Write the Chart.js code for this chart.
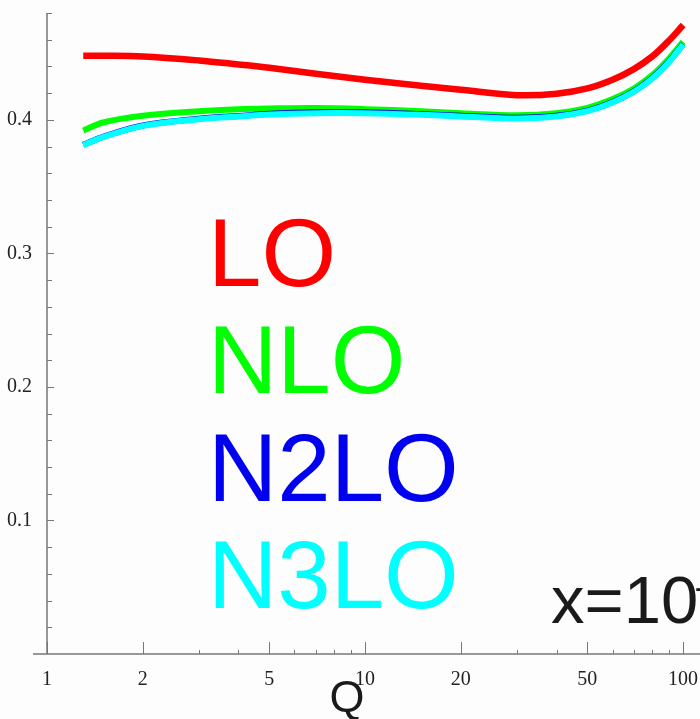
<!DOCTYPE html>
<html>
<head>
<meta charset="utf-8">
<script src="https://cdn.jsdelivr.net/npm/chart.js@4/dist/chart.umd.min.js"></script>
<style>
  html, body { margin: 0; padding: 0; background: #fdfdfd; }
  #wrap { width: 700px; height: 719px; }
</style>
</head>
<body>
<div id="wrap"><canvas id="qChart" width="700" height="719"></canvas></div>
<script>
// values
const qValues = [1.3, 1.5, 2, 3, 4, 5, 7, 10, 15, 20, 30, 40, 50, 60, 70, 80, 90, 100];
const loValues   = [0.448, 0.448, 0.4475, 0.4445, 0.4415, 0.439, 0.4345, 0.430, 0.4255, 0.4225, 0.4185, 0.4195, 0.4235, 0.430, 0.438, 0.4475, 0.459, 0.471];
const nloValues  = [0.392, 0.398, 0.403, 0.4065, 0.408, 0.4085, 0.4088, 0.408, 0.4065, 0.405, 0.4035, 0.405, 0.409, 0.4155, 0.4235, 0.4335, 0.4455, 0.4585];
const n2loValues = [0.3813, 0.3873, 0.3958, 0.4009, 0.4029, 0.4045, 0.4056, 0.4056, 0.4043, 0.403, 0.4015, 0.403, 0.4069, 0.4133, 0.4213, 0.4313, 0.4433, 0.4567];
const n3loValues = [0.381, 0.387, 0.3955, 0.4005, 0.4025, 0.404, 0.405, 0.405, 0.4038, 0.4025, 0.401, 0.4025, 0.4065, 0.413, 0.421, 0.431, 0.443, 0.4565];

const xTickValues = [1, 2, 3, 4, 5, 6, 7, 8, 9, 10, 20, 30, 40, 50, 60, 70, 80, 90, 100];
const xTickLabels = [1, 2, 5, 10, 20, 50, 100];
const yTickLabels = [0.1, 0.2, 0.3, 0.4];

const seriesLabels = ['LO', 'NLO', 'N2LO', 'N3LO'];
const seriesColors = ['#ff0000', '#00ff00', '#0000f0', '#00ffff'];

const toPoints = vals => vals.map((v, i) => ({ x: qValues[i], y: v }));

const axisColor = '#777777';

// axes lines, inward tick marks and the big labels
const decorPlugin = {
    id: 'decor',
    afterDraw(chart) {
        const ctx = chart.ctx;
        const xs = chart.scales.x;
        const ys = chart.scales.y;
        const area = chart.chartArea;
        ctx.save();
        ctx.strokeStyle = axisColor;
        ctx.lineWidth = 1.5;
        ctx.beginPath();
        ctx.moveTo(area.left, area.top);
        ctx.lineTo(area.left, area.bottom);
        ctx.moveTo(33, area.bottom);
        ctx.lineTo(chart.width, area.bottom);
        ctx.stroke();

        ctx.lineWidth = 1;
        ctx.beginPath();
        xTickValues.forEach(v => {
            const px = Math.round(xs.getPixelForValue(v)) + 0.5;
            const len = xTickLabels.includes(v) ? 12 : 4;
            ctx.moveTo(px, area.bottom);
            ctx.lineTo(px, area.bottom - len);
        });
        ys.ticks.forEach(t => {
            if (t.value <= 0) return;
            const py = Math.round(ys.getPixelForValue(t.value)) + 0.5;
            const major = Math.round(t.value * 100) % 10 === 0;
            ctx.moveTo(area.left, py);
            ctx.lineTo(area.left + (major ? 7 : 5), py);
        });
        ctx.stroke();

        // series names
        ctx.font = '96px "Liberation Sans", Arial, sans-serif';
        ctx.textAlign = 'left';
        ctx.textBaseline = 'alphabetic';
        const baselines = [286, 393, 501, 608];
        seriesLabels.forEach((name, i) => {
            ctx.fillStyle = seriesColors[i];
            ctx.fillText(name, 208, baselines[i]);
        });

        // x = 10^-4 note, cut at the right edge
        ctx.fillStyle = '#1a1a1a';
        ctx.font = '67px "Liberation Sans", Arial, sans-serif';
        ctx.fillText('x=10', 551, 623);
        const w = ctx.measureText('x=10').width;
        ctx.font = '40px "Liberation Sans", Arial, sans-serif';
        ctx.fillText('\u22124', 551 + w - 4, 603);

        // axis name
        ctx.font = '45px "Liberation Sans", Arial, sans-serif';
        ctx.textAlign = 'center';
        ctx.fillText('Q', 347, 712);
        ctx.restore();
    }
};

const ctx = document.getElementById('qChart').getContext('2d');
const qChart = new Chart(ctx, {
    type: 'line',
    data: {
        datasets: [
            { label: 'LO', data: toPoints(loValues), borderColor: seriesColors[0], borderWidth: 6.5, order: 3 },
            { label: 'NLO', data: toPoints(nloValues), borderColor: seriesColors[1], borderWidth: 6, order: 2 },
            { label: 'N2LO', data: toPoints(n2loValues), borderColor: seriesColors[2], borderWidth: 6, order: 1 },
            { label: 'N3LO', data: toPoints(n3loValues), borderColor: seriesColors[3], borderWidth: 6, order: 0 }
        ]
    },
    options: {
        responsive: false,
        animation: false,
        events: [],
        layout: { padding: { top: 13, left: 0, right: 0, bottom: 0 } },
        elements: {
            point: { radius: 0 },
            line: { tension: 0.35, fill: false, borderCapStyle: 'butt' }
        },
        plugins: {
            legend: { display: false },
            tooltip: { enabled: false }
        },
        scales: {
            x: {
                type: 'logarithmic',
                min: 1,
                max: 113,
                afterBuildTicks: scale => {
                    scale.ticks = xTickValues.map(v => ({ value: v }));
                },
                afterFit: scale => {
                    scale.height = 65;
                    scale.paddingLeft = 0;
                    scale.paddingRight = 0;
                },
                grid: { display: false },
                border: { display: false },
                ticks: {
                    autoSkip: false,
                    maxRotation: 0,
                    padding: 6,
                    color: '#222',
                    font: { family: '"Liberation Serif", "Times New Roman", serif', size: 20 },
                    callback: v => xTickLabels.includes(v) ? String(v) : ''
                }
            },
            y: {
                min: 0,
                max: 0.48,
                afterFit: scale => {
                    scale.width = 47;
                    scale.paddingTop = 0;
                    scale.paddingBottom = 0;
                },
                grid: { display: false },
                border: { display: false },
                ticks: {
                    stepSize: 0.02,
                    autoSkip: false,
                    padding: 7,
                    color: '#222',
                    font: { family: '"Liberation Serif", "Times New Roman", serif', size: 20 },
                    callback: v => {
                        const r = Math.round(v * 100) / 100;
                        return yTickLabels.includes(r) ? String(r) : '';
                    }
                }
            }
        }
    },
    plugins: [decorPlugin]
});
</script>
</body>
</html>
